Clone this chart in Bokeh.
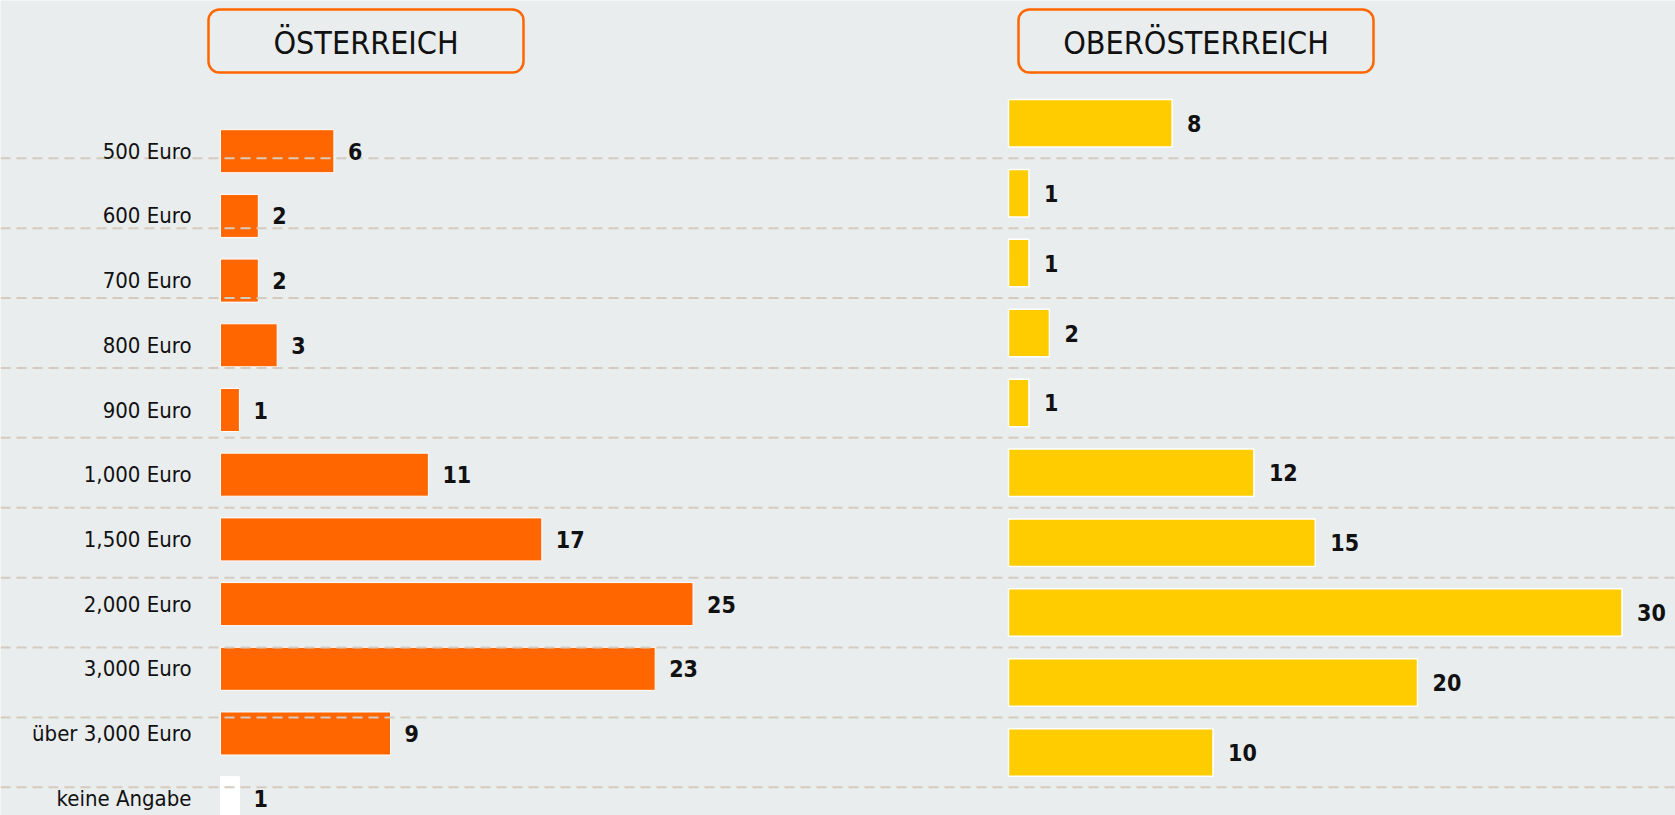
from bokeh.plotting import figure
from bokeh.models import Range1d, BoxAnnotation, ColumnDataSource
from bokeh.core.properties import value
from bokeh.embed import file_html
from bokeh.resources import INLINE

# ---------------- data ----------------
categories = ["500 Euro", "600 Euro", "700 Euro", "800 Euro", "900 Euro",
              "1,000 Euro", "1,500 Euro", "2,000 Euro", "3,000 Euro",
              "über 3,000 Euro", "keine Angabe"]
austria = [6, 2, 2, 3, 1, 11, 17, 25, 23, 9, 1]
upper_austria = [8, 1, 1, 2, 1, 12, 15, 30, 20, 10]
panel_titles = ["ÖSTERREICH", "OBERÖSTERREICH"]

# ---------------- styles / layout ----------------
W, H = 1675, 815
BG = "#E9EDEE"
ORANGE = "#FF6600"
YELLOW = "#FFCC00"
GRID = "#D3CBBF"
FONT = "DejaVu Sans Condensed"

# pixel geometry of the two panels
L_X0, L_K = 220.0, 18.9      # left panel: zero at px 220, px per unit
R_X0, R_K = 1008.0, 20.45    # right panel
L_Y0, L_DY = 150.7, 64.7     # left panel: first row centre, row pitch
R_Y0, R_DY = 122.8, 69.9     # right panel

p = figure(width=W, height=H, output_backend="svg", toolbar_location=None,
           x_range=Range1d(-L_X0 / L_K, (W - L_X0) / L_K),
           y_range=Range1d((H - L_Y0) / L_DY, -L_Y0 / L_DY),
           min_border=0, x_axis_location=None, y_axis_location=None,
           background_fill_color=BG, border_fill_color=BG,
           outline_line_color=None)
p.grid.visible = False
p.extra_x_ranges = {"rx": Range1d(-R_X0 / R_K, (W - R_X0) / R_K),
                    "px": Range1d(0, W)}
p.extra_y_ranges = {"ry": Range1d((H - R_Y0) / R_DY, -R_Y0 / R_DY),
                    "py": Range1d(H, 0)}

# ---------------- left panel ----------------
left_src = ColumnDataSource(dict(
    y=list(range(len(categories))),
    v=austria,
    cat=categories,
    lab=[str(v) for v in austria],
    color=["#FFFFFF" if c == "keine Angabe" else ORANGE for c in categories],
))
p.hbar(y="y", left=0, right="v", height=0.665, source=left_src,
       fill_color="color", line_color="white", line_width=1)

# ---------------- dashed separators (right panel rows) ----------------
sep_y = [i + 0.5 for i in range(len(upper_austria))]
p.segment(x0=0, x1=W, y0=sep_y, y1=sep_y, x_range_name="px", y_range_name="ry",
          line_color=GRID, line_width=2, line_dash="10 6")

p.text(x=0, y="y", text="cat", source=left_src, x_offset=-29,
       text_align="right", text_baseline="middle",
       text_font=value(FONT), text_font_size="22px", text_color="#111111")
p.text(x="v", y="y", text="lab", source=left_src, x_offset=14,
       text_align="left", text_baseline="middle",
       text_font=value(FONT), text_font_size="23px", text_font_style="bold",
       text_color="#111111")

# ---------------- right panel ----------------
right_src = ColumnDataSource(dict(
    y=list(range(len(upper_austria))),
    v=upper_austria,
    lab=[str(v) for v in upper_austria],
))
p.hbar(y="y", left=0, right="v", height=0.68, source=right_src,
       x_range_name="rx", y_range_name="ry",
       fill_color=YELLOW, line_color="white", line_width=1.5)
p.text(x="v", y="y", text="lab", source=right_src, x_offset=15,
       x_range_name="rx", y_range_name="ry",
       text_align="left", text_baseline="middle",
       text_font=value(FONT), text_font_size="23px", text_font_style="bold",
       text_color="#111111")

# ---------------- panel titles ----------------
boxes = [(208, 523), (1018, 1373)]
for (bl, br) in boxes:
    p.add_layout(BoxAnnotation(left=bl, right=br, top=9, bottom=72,
                               x_range_name="px", y_range_name="py",
                               fill_color=None, fill_alpha=0,
                               line_color=ORANGE, line_alpha=1.0,
                               line_width=2.5, border_radius=11))
p.text(x=[(a + b) / 2 for a, b in boxes], y=[42, 42], text=panel_titles,
       x_range_name="px", y_range_name="py",
       text_align="center", text_baseline="middle",
       text_font=value(FONT), text_font_size="32px", text_color="#111111")

open("out.html", "w").write(file_html(p, INLINE))
